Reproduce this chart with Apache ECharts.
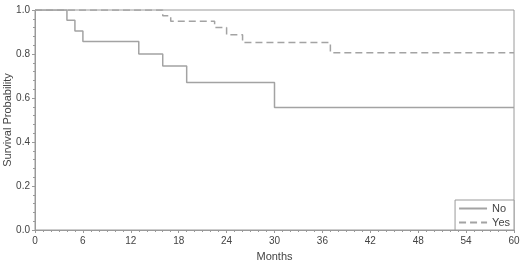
<!DOCTYPE html>
<html>
<head>
<meta charset="utf-8">
<script src="https://cdn.jsdelivr.net/npm/echarts@6/dist/echarts.min.js"></script>
<style>
  html, body { margin: 0; padding: 0; background: #fff; }
  #chart { width: 520px; height: 265px; }
</style>
</head>
<body>
<div id="chart"></div>
<script>
// Kaplan-Meier steps
const noTimes = [0, 4, 5, 6, 13, 16, 19, 30, 60];
const noSurv = [1.0, 0.953, 0.905, 0.857, 0.80, 0.745, 0.67, 0.557, 0.557];
const yesTimes = [0, 16, 17, 22.5, 24, 26, 37, 60];
const yesSurv = [1.0, 0.974, 0.949, 0.92, 0.888, 0.852, 0.806, 0.806];
const seriesNames = ["No", "Yes"];

const lineColor = "#a3a3a3";
const axisColor = "#9a9a9a";
const fontColor = "#444";

const zip = (xs, ys) => xs.map((x, i) => [x, ys[i]]);

const myChart = echarts.init(document.getElementById("chart"));
const option = {
  animation: false,
  textStyle: { fontFamily: "Liberation Sans, Arial, sans-serif" },
  grid: {
    left: 35,
    right: 6,
    top: 10,
    bottom: 35,
    outerBoundsMode: "none",
    containLabel: false,
    show: true,
    borderColor: axisColor,
    borderWidth: 1,
  },
  legend: {
    data: seriesNames,
    orient: "vertical",
    right: 6,
    bottom: 35,
    itemWidth: 28,
    itemHeight: 10,
    itemGap: 3,
    padding: [3, 4, 2, 3],
    borderColor: axisColor,
    borderWidth: 1,
    backgroundColor: "#fff",
    itemStyle: { opacity: 0 },
    textStyle: { color: fontColor, fontSize: 11, width: 20, align: "right" },
  },
  xAxis: {
    type: "value",
    min: 0,
    max: 60,
    interval: 6,
    name: "Months",
    nameLocation: "middle",
    nameGap: 21,
    nameMoveOverlap: false,
    nameTextStyle: { color: fontColor, fontSize: 11 },
    axisLine: { lineStyle: { color: axisColor } },
    axisTick: { lineStyle: { color: axisColor }, length: 3 },
    minorTick: { show: true, splitNumber: 6, length: 2, lineStyle: { color: axisColor } },
    axisLabel: { color: fontColor, fontSize: 10, margin: 6 },
    splitLine: { show: false },
  },
  yAxis: {
    type: "value",
    min: 0,
    max: 1,
    interval: 0.2,
    name: "Survival Probability",
    nameLocation: "middle",
    nameGap: 22,
    nameMoveOverlap: false,
    nameTextStyle: { color: fontColor, fontSize: 11 },
    axisLine: { show: true, lineStyle: { color: axisColor } },
    axisTick: { show: true, lineStyle: { color: axisColor }, length: 3 },
    minorTick: { show: true, splitNumber: 5, length: 2, lineStyle: { color: axisColor } },
    axisLabel: {
      color: fontColor,
      fontSize: 10,
      margin: 5,
      formatter: (v) => v.toFixed(1),
    },
    splitLine: { show: false },
  },
  series: [
    {
      name: seriesNames[0],
      type: "line",
      step: "end",
      symbol: "none",
      data: zip(noTimes, noSurv),
      lineStyle: { color: lineColor, width: 1.5 },
      itemStyle: { color: lineColor },
    },
    {
      name: seriesNames[1],
      type: "line",
      step: "end",
      symbol: "none",
      data: zip(yesTimes, yesSurv),
      lineStyle: { color: lineColor, width: 1.5, type: [7, 4] },
      itemStyle: { color: lineColor },
    },
  ],
};
myChart.setOption(option);
</script>
</body>
</html>
